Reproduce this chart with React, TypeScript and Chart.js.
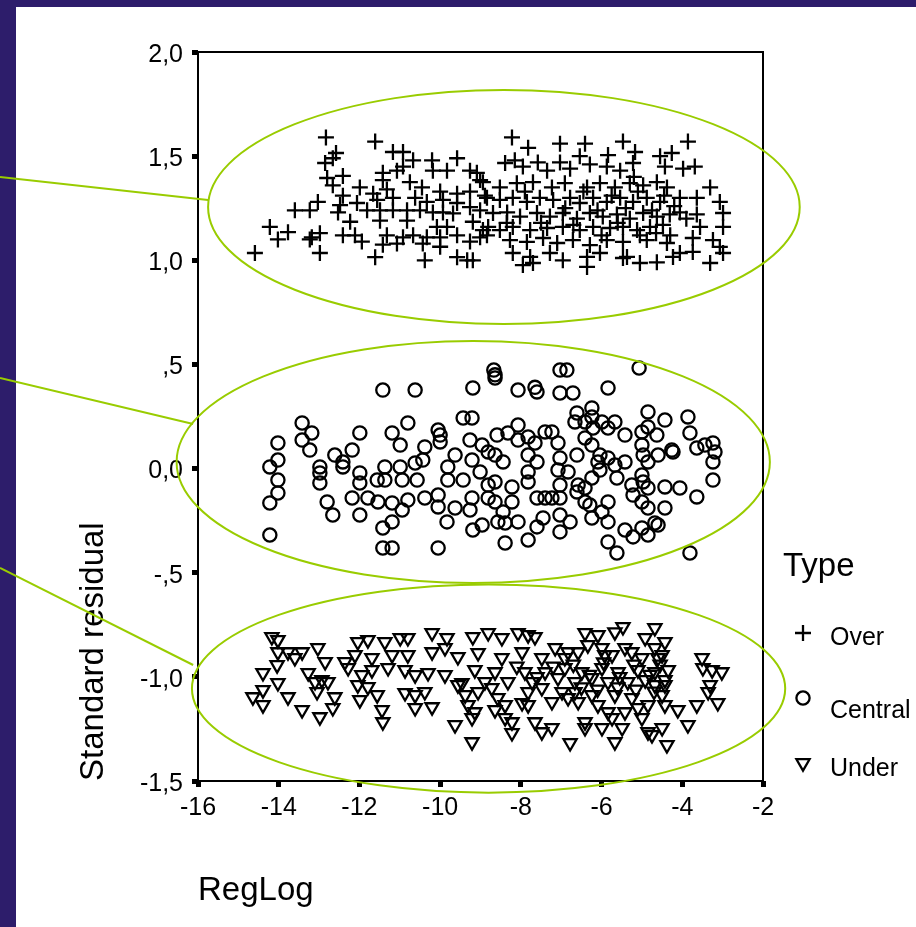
import React, { useEffect, useRef } from 'react';
import { Chart, registerables } from 'chart.js';

Chart.register(...registerables);

const seriesNames = ['Over', 'Central', 'Under'];
const legendTitle = 'Type';
const xAxisTitle = 'RegLog';
const yAxisTitle = 'Standard residual';
const xTickLabels = ['-16', '-14', '-12', '-10', '-8', '-6', '-4', '-2'];
const yTickLabels = ['-1,5', '-1,0', '-,5', '0,0', ',5', '1,0', '1,5', '2,0'];

const overPoints: [number, number][] = [
  [-12.83, 1.59], [-11.61, 1.57], [-12.58, 1.515], [-11.17, 1.52], [-10.92, 1.52], [-12.85, 1.467], [-12.66, 1.49], [-10.67, 1.48], [-10.2, 1.48], [-9.58, 1.49],
  [-12.8, 1.395], [-12.41, 1.405], [-12.66, 1.36], [-11.42, 1.42], [-11.07, 1.43], [-10.92, 1.45], [-10.18, 1.43], [-9.83, 1.43], [-9.26, 1.43], [-9.09, 1.42],
  [-9.01, 1.385], [-11.99, 1.35], [-11.66, 1.32], [-11.42, 1.385], [-11.32, 1.34], [-10.75, 1.375], [-10.45, 1.35], [-10.0, 1.33], [-9.58, 1.32], [-9.26, 1.33],
  [-8.89, 1.31], [-12.41, 1.31], [-13.03, 1.28], [-13.6, 1.24], [-13.23, 1.24], [-12.48, 1.265], [-12.53, 1.23], [-12.06, 1.275], [-11.81, 1.24], [-11.49, 1.24],
  [-11.17, 1.24], [-10.82, 1.24], [-10.5, 1.24], [-10.18, 1.23], [-9.93, 1.23], [-9.68, 1.225], [-9.26, 1.255], [-9.01, 1.24], [-11.56, 1.29], [-11.17, 1.3],
  [-10.62, 1.3], [-10.33, 1.28], [-9.93, 1.29], [-9.58, 1.275], [-12.23, 1.185], [-11.49, 1.19], [-10.82, 1.19], [-10.08, 1.16], [-9.83, 1.16], [-9.19, 1.185],
  [-8.94, 1.145], [-14.22, 1.16], [-13.77, 1.135], [-14.02, 1.1], [-13.18, 1.11], [-12.98, 1.13], [-12.41, 1.12], [-12.11, 1.12], [-11.94, 1.09], [-11.32, 1.12],
  [-10.92, 1.11], [-10.67, 1.12], [-10.33, 1.11], [-10.0, 1.11], [-9.58, 1.12], [-9.01, 1.11], [-8.84, 1.12], [-11.42, 1.075], [-11.07, 1.08], [-10.43, 1.08],
  [-10.0, 1.065], [-9.26, 1.09], [-14.59, 1.035], [-12.98, 1.035], [-11.61, 1.015], [-10.38, 1.0], [-9.58, 1.015], [-9.33, 1.0], [-9.19, 1.0], [-13.23, 1.1],
  [-8.22, 1.59], [-7.82, 1.54], [-7.03, 1.56], [-6.41, 1.56], [-5.47, 1.57], [-5.17, 1.52], [-3.86, 1.57], [-8.39, 1.467], [-8.15, 1.48], [-7.95, 1.45],
  [-7.58, 1.47], [-7.35, 1.43], [-7.03, 1.47], [-6.78, 1.44], [-6.54, 1.5], [-6.29, 1.46], [-5.84, 1.505], [-5.87, 1.45], [-5.54, 1.43], [-5.22, 1.467],
  [-4.55, 1.5], [-4.26, 1.515], [-4.43, 1.45], [-3.98, 1.44], [-3.69, 1.45], [-8.94, 1.375], [-8.52, 1.35], [-8.1, 1.37], [-7.7, 1.375], [-7.23, 1.35],
  [-6.91, 1.37], [-6.36, 1.35], [-6.04, 1.37], [-5.67, 1.35], [-5.3, 1.37], [-4.97, 1.36], [-4.63, 1.375], [-4.38, 1.35], [-3.31, 1.35], [-8.84, 1.3],
  [-8.52, 1.29], [-8.2, 1.3], [-7.85, 1.28], [-7.53, 1.3], [-7.2, 1.29], [-6.78, 1.3], [-6.54, 1.275], [-6.21, 1.3], [-5.87, 1.28], [-5.54, 1.3],
  [-5.22, 1.28], [-4.88, 1.3], [-4.55, 1.28], [-4.06, 1.3], [-3.64, 1.3], [-3.07, 1.28], [-8.69, 1.227], [-8.34, 1.23], [-8.02, 1.21], [-7.6, 1.227],
  [-7.28, 1.21], [-6.96, 1.227], [-6.61, 1.2], [-6.29, 1.227], [-5.97, 1.21], [-5.62, 1.22], [-5.3, 1.2], [-4.97, 1.227], [-4.63, 1.21], [-4.31, 1.22],
  [-4.06, 1.23], [-3.64, 1.22], [-2.99, 1.227], [-8.81, 1.16], [-8.52, 1.145], [-8.2, 1.16], [-7.77, 1.145], [-7.35, 1.155], [-6.96, 1.16], [-6.54, 1.145],
  [-6.21, 1.16], [-5.79, 1.155], [-5.47, 1.16], [-5.12, 1.145], [-4.8, 1.16], [-4.48, 1.17], [-3.56, 1.16], [-2.99, 1.16], [-8.27, 1.097], [-7.85, 1.088],
  [-7.45, 1.107], [-7.1, 1.083], [-6.71, 1.097], [-6.29, 1.073], [-5.87, 1.097], [-5.47, 1.088], [-4.88, 1.097], [-4.38, 1.083], [-3.74, 1.107], [-3.24, 1.097],
  [-3.07, 1.064], [-8.2, 1.035], [-7.77, 1.016], [-7.28, 1.035], [-6.96, 1.0], [-6.36, 1.016], [-6.04, 1.035], [-5.47, 1.011], [-5.05, 0.987], [-4.63, 0.99],
  [-4.23, 1.016], [-3.74, 1.04], [-3.31, 0.987], [-2.99, 1.035], [-7.95, 0.977], [-6.36, 0.968], [-7.7, 0.987], [-5.37, 1.016], [-4.06, 1.035],
  [-6.9, 1.25], [-6.45, 1.33], [-6.1, 1.24], [-5.75, 1.31], [-5.4, 1.25], [-5.1, 1.33], [-4.75, 1.24], [-4.45, 1.31], [-4.2, 1.26], [-6.7, 1.17],
  [-6.0, 1.12], [-5.6, 1.18], [-5.05, 1.12], [-4.65, 1.13], [-4.3, 1.12], [-7.5, 1.18], [-7.9, 1.33], [-8.35, 1.18], [-3.9, 1.2], [-5.2, 1.4],
];

const centralPoints: [number, number][] = [
  [-11.42, 0.377], [-10.62, 0.377], [-9.19, 0.387], [-8.67, 0.473], [-8.64, 0.45], [-8.64, 0.435], [-8.07, 0.377], [-7.65, 0.39], [-7.6, 0.368], [-7.03, 0.473],
  [-6.86, 0.473], [-7.03, 0.363], [-6.71, 0.363], [-5.84, 0.387], [-5.07, 0.483], [-13.42, 0.219], [-13.18, 0.171], [-13.42, 0.137], [-13.23, 0.089], [-14.02, 0.123],
  [-14.02, 0.041], [-14.22, 0.008], [-14.02, -0.055], [-14.02, -0.117], [-14.22, -0.165], [-14.22, -0.319], [-12.98, 0.008], [-12.98, -0.021], [-12.98, -0.069], [-12.8, -0.16],
  [-12.66, -0.223], [-12.61, 0.065], [-12.41, 0.032], [-12.41, 0.008], [-12.18, 0.089], [-11.99, 0.171], [-11.99, -0.021], [-11.99, -0.069], [-12.18, -0.141], [-11.99, -0.223],
  [-11.79, -0.141], [-11.56, -0.055], [-11.54, -0.16], [-11.42, -0.285], [-11.19, -0.256], [-11.42, -0.381], [-11.19, -0.381], [-11.37, 0.008], [-11.37, -0.055], [-11.19, 0.171],
  [-10.99, 0.113], [-10.99, 0.008], [-10.94, -0.055], [-11.19, -0.165], [-10.8, 0.219], [-10.8, -0.151], [-10.94, -0.199], [-10.57, -0.055], [-10.62, 0.027], [-10.43, 0.041],
  [-10.38, 0.104], [-10.38, -0.141], [-10.05, 0.185], [-10.0, 0.161], [-10.0, 0.128], [-10.05, -0.127], [-10.05, -0.184], [-9.81, 0.008], [-9.81, -0.055], [-9.63, 0.065],
  [-9.63, -0.189], [-9.83, -0.256], [-10.05, -0.381], [-9.43, 0.243], [-9.21, 0.243], [-9.43, -0.055], [-9.26, 0.137], [-9.21, 0.041], [-9.21, -0.141], [-9.26, -0.199],
  [-9.19, -0.295], [-8.96, -0.271], [-8.96, 0.113], [-8.81, 0.08], [-9.01, -0.016], [-8.81, -0.079], [-8.81, -0.141], [-8.59, 0.161], [-8.64, 0.065], [-8.64, -0.064],
  [-8.64, -0.16], [-8.44, -0.208], [-8.57, -0.256], [-8.39, -0.261], [-8.39, -0.357], [-8.44, 0.032], [-8.32, 0.171], [-8.07, 0.209], [-8.07, 0.137], [-8.22, -0.088],
  [-8.22, -0.16], [-8.07, -0.256], [-7.82, -0.343], [-7.82, 0.152], [-7.82, 0.065], [-7.82, -0.016], [-7.82, -0.064], [-7.65, 0.123], [-7.6, 0.032], [-7.6, -0.141],
  [-7.6, -0.28], [-7.4, 0.176], [-7.23, 0.176], [-7.45, -0.237], [-7.4, -0.141], [-7.23, -0.141], [-7.08, 0.123], [-7.03, 0.051], [-7.08, -0.007], [-7.03, -0.079],
  [-7.03, -0.141], [-7.03, -0.223], [-7.03, -0.304], [-6.83, -0.016], [-6.78, -0.256], [-6.61, 0.267], [-6.66, 0.224], [-6.61, 0.065], [-6.58, -0.079], [-6.61, -0.112],
  [-6.41, 0.224], [-6.41, 0.147], [-6.41, -0.093], [-6.41, -0.16], [-6.24, 0.291], [-6.24, 0.248], [-6.21, 0.195], [-6.24, 0.113], [-6.04, 0.065], [-6.09, 0.032],
  [-6.04, -0.007], [-6.24, -0.045], [-6.29, -0.175], [-6.24, -0.237], [-5.99, -0.208], [-5.99, 0.224], [-5.84, 0.195], [-5.67, 0.224], [-5.84, 0.051], [-5.67, 0.017],
  [-5.62, -0.045], [-5.84, -0.16], [-5.84, -0.256], [-5.84, -0.352], [-5.62, -0.405], [-5.42, 0.161], [-5.42, 0.032], [-5.25, -0.079], [-5.22, -0.127], [-5.42, -0.295],
  [-5.22, -0.328], [-5.0, 0.176], [-4.85, 0.272], [-4.85, 0.2], [-5.0, 0.113], [-4.97, 0.065], [-4.85, 0.032], [-5.0, -0.031], [-4.97, -0.064], [-4.85, -0.093],
  [-5.0, -0.16], [-4.85, -0.189], [-5.0, -0.285], [-4.85, -0.319], [-4.68, -0.261], [-4.6, -0.271], [-4.63, 0.161], [-4.43, 0.233], [-4.6, 0.065], [-4.43, -0.088],
  [-4.43, -0.189], [-4.26, 0.089], [-4.23, 0.08], [-4.06, -0.093], [-3.86, 0.248], [-3.81, 0.171], [-3.64, 0.099], [-3.64, -0.136], [-3.44, 0.113], [-3.24, 0.123],
  [-3.19, 0.08], [-3.24, 0.032], [-3.24, -0.055], [-3.81, -0.405],
];

const underPoints: [number, number][] = [
  [-14.17, -0.808], [-14.02, -0.823], [-14.02, -0.881], [-13.77, -0.881], [-13.42, -0.881], [-13.6, -0.909], [-13.03, -0.861], [-12.85, -0.928], [-14.04, -0.943], [-14.39, -0.981],
  [-13.27, -0.981], [-12.93, -1.015], [-13.1, -1.024], [-12.78, -1.024], [-13.05, -1.072], [-14.02, -1.029], [-14.39, -1.063], [-14.64, -1.097], [-14.39, -1.135], [-13.77, -1.097],
  [-13.42, -1.159], [-12.98, -1.193], [-12.61, -1.097], [-12.66, -1.149], [-12.04, -0.832], [-11.79, -0.823], [-11.37, -0.832], [-10.99, -0.813], [-10.8, -0.813], [-10.2, -0.789],
  [-9.83, -0.813], [-9.19, -0.808], [-8.81, -0.789], [-8.47, -0.813], [-8.07, -0.789], [-7.82, -0.799], [-7.65, -0.808], [-6.41, -0.789], [-6.09, -0.799], [-5.67, -0.785],
  [-5.47, -0.76], [-4.68, -0.765], [-4.92, -0.813], [-4.43, -0.832], [-12.36, -0.928], [-12.11, -0.895], [-11.69, -0.909], [-11.19, -0.895], [-10.8, -0.895], [-10.2, -0.881],
  [-9.88, -0.861], [-9.56, -0.904], [-9.06, -0.885], [-8.47, -0.909], [-7.97, -0.881], [-7.48, -0.909], [-7.15, -0.861], [-6.83, -0.881], [-6.34, -0.847], [-5.92, -0.895],
  [-5.42, -0.861], [-5.0, -0.909], [-4.5, -0.895], [-12.28, -0.957], [-11.94, -0.991], [-11.69, -0.967], [-11.29, -0.957], [-10.87, -0.967], [-10.62, -0.991], [-10.3, -0.981],
  [-9.88, -0.991], [-9.46, -1.029], [-9.14, -0.967], [-8.89, -1.024], [-8.64, -0.977], [-8.32, -1.024], [-7.9, -0.977], [-7.72, -1.024], [-7.4, -0.977], [-7.08, -1.005],
  [-6.91, -0.957], [-6.66, -1.024], [-6.49, -0.977], [-6.24, -1.005], [-5.99, -0.957], [-5.84, -1.024], [-5.59, -0.977], [-5.35, -1.024], [-5.1, -0.967], [-4.92, -1.015],
  [-4.68, -0.977], [-4.43, -1.015], [-4.35, -0.967], [-12.04, -1.039], [-11.79, -1.048], [-11.56, -1.087], [-11.99, -1.111], [-11.44, -1.159], [-11.42, -1.217], [-10.87, -1.077],
  [-10.62, -1.087], [-10.38, -1.072], [-10.62, -1.149], [-10.2, -1.145], [-9.56, -1.039], [-9.38, -1.087], [-9.06, -1.072], [-8.72, -1.053], [-9.31, -1.135], [-9.14, -1.169],
  [-9.21, -1.197], [-9.63, -1.231], [-8.64, -1.159], [-8.39, -1.135], [-8.39, -1.197], [-8.22, -1.217], [-8.22, -1.269], [-8.57, -1.101], [-7.97, -1.125], [-7.82, -1.135],
  [-7.82, -1.072], [-7.65, -1.217], [-7.48, -1.265], [-7.23, -1.245], [-7.48, -1.053], [-7.23, -1.12], [-6.98, -1.072], [-6.83, -1.101], [-6.66, -1.072], [-6.58, -1.12],
  [-6.78, -1.317], [-6.41, -1.217], [-6.41, -1.245], [-6.24, -1.087], [-6.09, -1.135], [-5.99, -1.245], [-5.74, -1.197], [-5.84, -1.169], [-5.67, -1.313], [-5.49, -1.245],
  [-5.67, -1.087], [-5.42, -1.169], [-5.25, -1.101], [-5.1, -1.149], [-5.0, -1.197], [-4.85, -1.265], [-4.75, -1.279], [-4.5, -1.245], [-4.38, -1.327], [-4.85, -1.135],
  [-4.43, -1.135], [-4.11, -1.159], [-3.86, -1.231], [-3.64, -1.135], [-3.51, -0.909], [-3.49, -0.957], [-3.26, -0.967], [-3.02, -0.977], [-3.31, -1.039], [-3.36, -1.072],
  [-3.12, -1.125], [-4.68, -1.039], [-4.43, -1.039], [-4.5, -1.087], [-6.91, -0.909], [-6.58, -0.881], [-5.99, -0.861], [-5.74, -0.895], [-5.25, -0.881], [-4.68, -0.861],
  [-4.6, -0.909], [-9.21, -1.313],
  [-6.7, -0.94], [-6.3, -0.99], [-5.95, -0.93], [-5.55, -1.0], [-5.2, -0.94], [-4.8, -0.99], [-4.55, -0.94], [-6.5, -1.05], [-6.1, -1.06], [-5.6, -1.05],
  [-5.15, -1.06], [-4.7, -1.07], [-7.2, -0.95], [-7.6, -1.0], [-8.1, -0.95],
];

// Green highlight ellipses around each group (data units: centre and half-axes)
const ellipses = [
  { cx: -8.42, cy: 1.256, rx: 7.33, ry: 0.562 },
  { cx: -9.18, cy: 0.032, rx: 7.35, ry: 0.581 },
  { cx: -8.8, cy: -1.056, rx: 7.35, ry: 0.5 },
];
// Pointer lines from the left page edge to each ellipse (data units)
const pointerLines = [
  { startY: 1.4, endX: -15.75, endY: 1.29 },
  { startY: 0.435, endX: -16.12, endY: 0.214 },
  { startY: -0.477, endX: -16.12, endY: -0.943 },
];

const PURPLE = '#2d1d6b';
const GREEN = '#99cc00';
const FONT = '"Liberation Sans", Arial, Helvetica, sans-serif';

function drawMarker(ctx: CanvasRenderingContext2D, style: string, x: number, y: number, r: number, rotDeg: number) {
  ctx.beginPath();
  if (style === 'cross') {
    ctx.moveTo(x - r, y);
    ctx.lineTo(x + r, y);
    ctx.moveTo(x, y - r);
    ctx.lineTo(x, y + r);
  } else if (style === 'circle') {
    ctx.arc(x, y, r, 0, Math.PI * 2);
  } else if (style === 'triangle') {
    let rad = (rotDeg * Math.PI) / 180;
    ctx.moveTo(x + Math.sin(rad) * r, y - Math.cos(rad) * r);
    rad += (2 * Math.PI) / 3;
    ctx.lineTo(x + Math.sin(rad) * r, y - Math.cos(rad) * r);
    rad += (2 * Math.PI) / 3;
    ctx.lineTo(x + Math.sin(rad) * r, y - Math.cos(rad) * r);
    ctx.closePath();
  }
  ctx.stroke();
}

const decorPlugin = {
  id: 'decor',
  beforeDraw(chart: any) {
    const ctx = chart.ctx as CanvasRenderingContext2D;
    ctx.save();
    ctx.fillStyle = PURPLE;
    ctx.fillRect(0, 0, chart.width, chart.height);
    ctx.fillStyle = '#ffffff';
    ctx.fillRect(16, 7, chart.width - 16, chart.height - 7);
    ctx.restore();
  },
  afterDraw(chart: any) {
    const ctx = chart.ctx as CanvasRenderingContext2D;
    const { left, top, right, bottom } = chart.chartArea;
    const xs = chart.scales.x;
    const ys = chart.scales.y;
    ctx.save();
    ctx.strokeStyle = '#000';
    ctx.lineWidth = 2;
    ctx.strokeRect(left, top, right - left, bottom - top);

    ctx.strokeStyle = GREEN;
    ctx.lineWidth = 2;
    ellipses.forEach((e) => {
      const cx = xs.getPixelForValue(e.cx);
      const cy = ys.getPixelForValue(e.cy);
      const rx = Math.abs(xs.getPixelForValue(e.cx + e.rx) - cx);
      const ry = Math.abs(ys.getPixelForValue(e.cy + e.ry) - cy);
      ctx.beginPath();
      ctx.ellipse(cx, cy, rx, ry, 0, 0, Math.PI * 2);
      ctx.stroke();
    });
    pointerLines.forEach((l) => {
      ctx.beginPath();
      ctx.moveTo(0, ys.getPixelForValue(l.startY));
      ctx.lineTo(xs.getPixelForValue(l.endX), ys.getPixelForValue(l.endY));
      ctx.stroke();
    });

    // Legend
    ctx.fillStyle = '#000';
    ctx.textBaseline = 'alphabetic';
    ctx.textAlign = 'left';
    ctx.font = `33px ${FONT}`;
    ctx.fillText(legendTitle, 783, 576);
    const markerY = [633, 698, 763];
    const textY = [645, 718, 776];
    ctx.font = `25px ${FONT}`;
    chart.data.datasets.forEach((ds: any, i: number) => {
      ctx.strokeStyle = '#000';
      ctx.lineWidth = ds.pointBorderWidth;
      drawMarker(ctx, ds.pointStyle, 803, markerY[i], ds.pointRadius, ds.pointRotation || 0);
      ctx.fillText(ds.label, 830, textY[i]);
    });
    ctx.restore();
  },
};

export default function App() {
  const canvasRef = useRef<HTMLCanvasElement | null>(null);

  useEffect(() => {
    if (!canvasRef.current) return;
    Chart.defaults.font.family = FONT;
    Chart.defaults.color = '#000';
    const toXY = (pts: [number, number][]) => pts.map(([x, y]) => ({ x, y }));
    const common = {
      showLine: false,
      pointBorderColor: '#000',
      pointBackgroundColor: 'rgba(0,0,0,0)',
      pointBorderWidth: 2.3,
    };
    const chart = new Chart(canvasRef.current, {
      type: 'scatter',
      data: {
        datasets: [
          { ...common, label: seriesNames[0], data: toXY(overPoints), pointStyle: 'cross', pointRadius: 8 },
          { ...common, label: seriesNames[1], data: toXY(centralPoints), pointStyle: 'circle', pointRadius: 6.6 },
          { ...common, label: seriesNames[2], data: toXY(underPoints), pointStyle: 'triangle', pointRadius: 7.6, pointRotation: 180 },
        ] as any,
      },
      options: {
        animation: false,
        responsive: true,
        maintainAspectRatio: false,
        events: [],
        layout: { padding: { left: 0, top: 52, right: 153, bottom: 0 } },
        plugins: { legend: { display: false }, tooltip: { enabled: false } },
        scales: {
          x: {
            type: 'linear',
            min: -16,
            max: -2,
            ticks: {
              stepSize: 2,
              padding: 6,
              color: '#000',
              font: { size: 25 },
              maxRotation: 0,
              callback: (_v: any, i: number) => xTickLabels[i],
            },
            grid: { drawOnChartArea: false, drawTicks: true, tickLength: 6, tickWidth: 5, tickColor: '#000' },
            border: { display: false },
            title: {
              display: true,
              text: xAxisTitle,
              align: 'start',
              color: '#000',
              font: { size: 33 },
              padding: { top: 0, bottom: 16.6 },
            },
            afterFit: (s: any) => {
              s.height = 146;
            },
          },
          y: {
            type: 'linear',
            min: -1.5,
            max: 2,
            ticks: {
              stepSize: 0.5,
              padding: 9,
              labelOffset: 3,
              color: '#000',
              font: { size: 25 },
              callback: (_v: any, i: number) => yTickLabels[i],
            },
            grid: { drawOnChartArea: false, drawTicks: true, tickLength: 6, tickWidth: 5, tickColor: '#000' },
            border: { display: false },
            title: {
              display: true,
              text: yAxisTitle,
              align: 'start',
              color: '#000',
              font: { size: 33 },
              padding: { top: 74, bottom: 0 },
            },
            afterFit: (s: any) => {
              s.width = 198;
            },
          },
        } as any,
      },
      plugins: [decorPlugin as any],
    });
    return () => chart.destroy();
  }, []);

  return (
    <div style={{ position: 'absolute', left: 0, top: 0, width: 916, height: 927 }}>
      <canvas ref={canvasRef} />
    </div>
  );
}
